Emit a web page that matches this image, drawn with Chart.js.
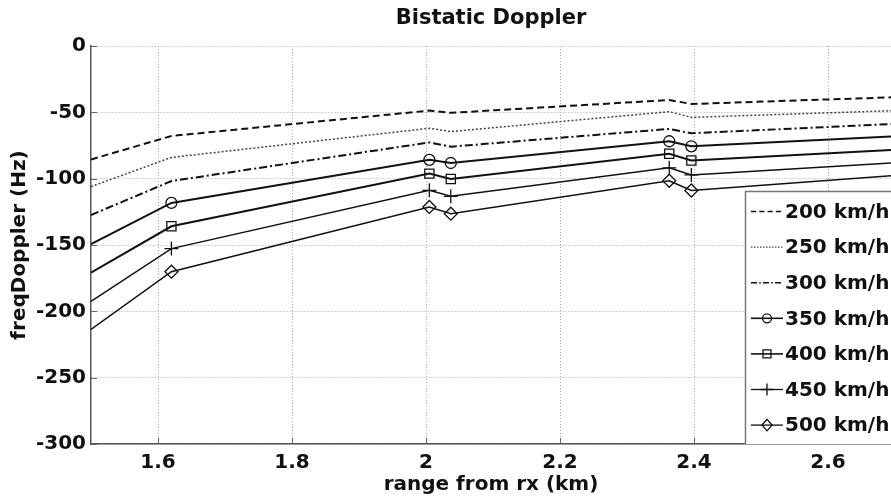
<!DOCTYPE html>
<html>
<head>
<meta charset="utf-8">
<script src="https://cdn.jsdelivr.net/npm/chart.js@4/dist/chart.umd.min.js"></script>
<style>
html,body{margin:0;padding:0;background:#fff;}
canvas{display:block;}
</style>
</head>
<body>
<canvas id="c" width="891" height="500"></canvas>
<script>
// ---- data ----
const chartTitle = "Bistatic Doppler";
const xTitle = "range from rx (km)";
const yTitle = "freqDoppler (Hz)";
const rangeKm = [1.5, 1.62, 2.005, 2.037, 2.363, 2.396, 2.694];
const xTickValues = [1.6, 1.8, 2.0, 2.2, 2.4, 2.6];
const yTickValues = [0, -50, -100, -150, -200, -250, -300];
const seriesLabels = ["200 km/h", "250 km/h", "300 km/h", "350 km/h", "400 km/h", "450 km/h", "500 km/h"];
const v200 = [-85.5, -67.8, -48.7, -50.4, -40.7, -43.7, -38.7];
const v250 = [-106.0, -84.0, -62.0, -64.5, -49.5, -53.8, -48.8];
const v300 = [-127.4, -101.8, -72.7, -75.9, -62.5, -65.8, -58.8];
const v350 = [-149.3, -118.3, -85.8, -88.2, -71.8, -75.6, -68.3];
const v400 = [-170.9, -135.9, -96.2, -100.2, -81.2, -86.3, -78.4];
const v450 = [-192.5, -152.7, -108.8, -113.3, -91.8, -97.2, -88.2];
const v500 = [-213.6, -170.1, -121.3, -126.4, -101.6, -108.9, -97.8];

// ---- styles ----
const FONT = "'DejaVu Sans', 'Liberation Sans', Arial, sans-serif";
Chart.defaults.font.family = FONT;
Chart.defaults.color = '#111';

const styles = [
  {dash:[7,4], width:2, color:'#111', marker:null, r:0},
  {dash:[2,2], width:1.5, color:'#444', marker:null, r:0},
  {dash:[8,3,2,3], width:2, color:'#111', marker:null, r:0},
  {dash:[], width:2, color:'#111', marker:'circle', r:5.5},
  {dash:[], width:2, color:'#111', marker:'rect', r:6.5},
  {dash:[], width:1.5, color:'#111', marker:'cross', r:7},
  {dash:[], width:1.5, color:'#111', marker:'rectRot', r:6.5}
];
const allValues = [v200, v250, v300, v350, v400, v450, v500];

const lastIdx = rangeKm.length - 1;
const datasets = allValues.map((vals, i) => {
  const st = styles[i];
  return {
    label: seriesLabels[i],
    data: rangeKm.map((x, k) => ({x: x, y: vals[k]})),
    borderColor: st.color,
    borderWidth: st.width,
    borderDash: st.dash,
    backgroundColor: 'rgba(0,0,0,0)',
    pointStyle: st.marker || 'circle',
    pointRadius: (ctx) => (!st.marker || ctx.dataIndex === 0 || ctx.dataIndex === lastIdx) ? 0 : st.r,
    pointBorderColor: '#111',
    pointBackgroundColor: 'rgba(0,0,0,0)',
    pointBorderWidth: 1.3,
    pointHoverRadius: 0,
    tension: 0,
    fill: false
  };
});

function drawMarker(ctx, style, x, y, r) {
  ctx.save();
  ctx.setLineDash([]);
  ctx.lineWidth = 1.3;
  ctx.strokeStyle = '#111';
  ctx.beginPath();
  if (style === 'circle') {
    ctx.arc(x, y, r, 0, Math.PI * 2);
  } else if (style === 'rect') {
    ctx.rect(x - r, y - r, 2 * r, 2 * r);
  } else if (style === 'cross') {
    ctx.moveTo(x - r, y); ctx.lineTo(x + r, y);
    ctx.moveTo(x, y - r); ctx.lineTo(x, y + r);
  } else if (style === 'rectRot') {
    ctx.moveTo(x, y - r * 1.15); ctx.lineTo(x + r, y); ctx.lineTo(x, y + r * 1.15); ctx.lineTo(x - r, y); ctx.closePath();
  }
  ctx.stroke();
  ctx.restore();
}

const decorPlugin = {
  id: 'decor',
  beforeDatasetsDraw(chart) {
    const ctx = chart.ctx;
    const xs = chart.scales.x, ys = chart.scales.y;
    const a = chart.chartArea;
    ctx.save();
    ctx.strokeStyle = '#666';
    ctx.lineWidth = 1;
    ctx.setLineDash([]);
    ctx.beginPath();
    xTickValues.forEach(v => {
      const px = Math.round(xs.getPixelForValue(v)) + 0.5;
      ctx.moveTo(px, a.bottom); ctx.lineTo(px, a.bottom - 6);
    });
    yTickValues.forEach(v => {
      const py = Math.round(ys.getPixelForValue(v)) + 0.5;
      ctx.moveTo(a.left, py); ctx.lineTo(a.left + 6, py);
    });
    ctx.stroke();
    ctx.restore();
  },
  afterDraw(chart) {
    const ctx = chart.ctx;
    const a = chart.chartArea;
    ctx.save();
    // title
    ctx.fillStyle = '#111';
    ctx.font = "bold 21px " + FONT;
    ctx.textAlign = 'center';
    ctx.textBaseline = 'middle';
    ctx.fillText(chartTitle, (a.left + a.right) / 2, 19);

    // legend box
    const bx = 745.5, by = 191.5;
    ctx.fillStyle = '#fff';
    ctx.fillRect(bx, by, 200, a.bottom - by);
    ctx.strokeStyle = '#777';
    ctx.lineWidth = 1.5;
    ctx.setLineDash([]);
    ctx.beginPath();
    ctx.moveTo(bx + 200, by); ctx.lineTo(bx, by); ctx.lineTo(bx, a.bottom);
    ctx.stroke();

    const rowY0 = 211.5, rowStep = 35.6;
    seriesLabels.forEach((lab, i) => {
      const st = styles[i];
      const y = rowY0 + i * rowStep;
      ctx.save();
      ctx.strokeStyle = st.color;
      ctx.lineWidth = st.width > 1.6 ? 1.6 : 1.3;
      ctx.setLineDash(st.dash.length ? st.dash.map(d => Math.max(1.5, d * 0.75)) : []);
      ctx.beginPath();
      ctx.moveTo(751, y); ctx.lineTo(783, y);
      ctx.stroke();
      ctx.restore();
      if (st.marker) {
        const rr = st.marker === 'circle' ? 4.5 : st.marker === 'rect' ? 4 : st.marker === 'cross' ? 6 : 5;
        drawMarker(ctx, st.marker, 767, y, rr);
      }
      ctx.fillStyle = '#111';
      ctx.font = "bold 20px " + FONT;
      ctx.textAlign = 'left';
      ctx.textBaseline = 'middle';
      ctx.fillText(lab, 785, y + 1);
    });
    ctx.restore();
  }
};

new Chart(document.getElementById('c'), {
  type: 'line',
  data: { datasets: datasets },
  options: {
    responsive: false,
    animation: false,
    devicePixelRatio: 1,
    layout: { padding: { top: 46, right: 0, left: 0, bottom: 0 } },
    plugins: { legend: { display: false }, title: { display: false }, tooltip: { enabled: false } },
    elements: { line: { borderCapStyle: 'butt' } },
    scales: {
      x: {
        type: 'linear',
        min: rangeKm[0],
        max: rangeKm[lastIdx],
        afterBuildTicks(scale) { scale.ticks = xTickValues.map(v => ({value: v})); },
        afterFit(scale) { scale.height = 56; },
        ticks: {
          font: { size: 20, weight: 'bold' },
          color: '#111',
          padding: 7,
          maxRotation: 0,
          autoSkip: false,
          callback: (v) => String(Math.round(v * 10) / 10)
        },
        grid: { color: '#aaa', lineWidth: 1, drawTicks: false },
        border: { display: true, color: '#555', width: 1.5, dash: [1, 2] },
        title: {
          display: true,
          text: xTitle,
          font: { size: 20, weight: 'bold' },
          color: '#111',
          padding: { top: 0, bottom: 3 }
        }
      },
      y: {
        type: 'linear',
        min: -300,
        max: 0,
        afterBuildTicks(scale) { scale.ticks = yTickValues.slice().reverse().map(v => ({value: v})); },
        afterFit(scale) { scale.width = 91; },
        ticks: {
          font: { size: 20, weight: 'bold' },
          color: '#111',
          padding: 5,
          autoSkip: false
        },
        grid: { color: '#aaa', lineWidth: 1, drawTicks: false },
        border: { display: true, color: '#555', width: 1.5, dash: [1, 2] },
        title: {
          display: true,
          text: yTitle,
          font: { size: 20, weight: 'bold' },
          color: '#111',
          padding: { top: 8, bottom: 0 }
        }
      }
    }
  },
  plugins: [decorPlugin]
});
</script>
</body>
</html>
